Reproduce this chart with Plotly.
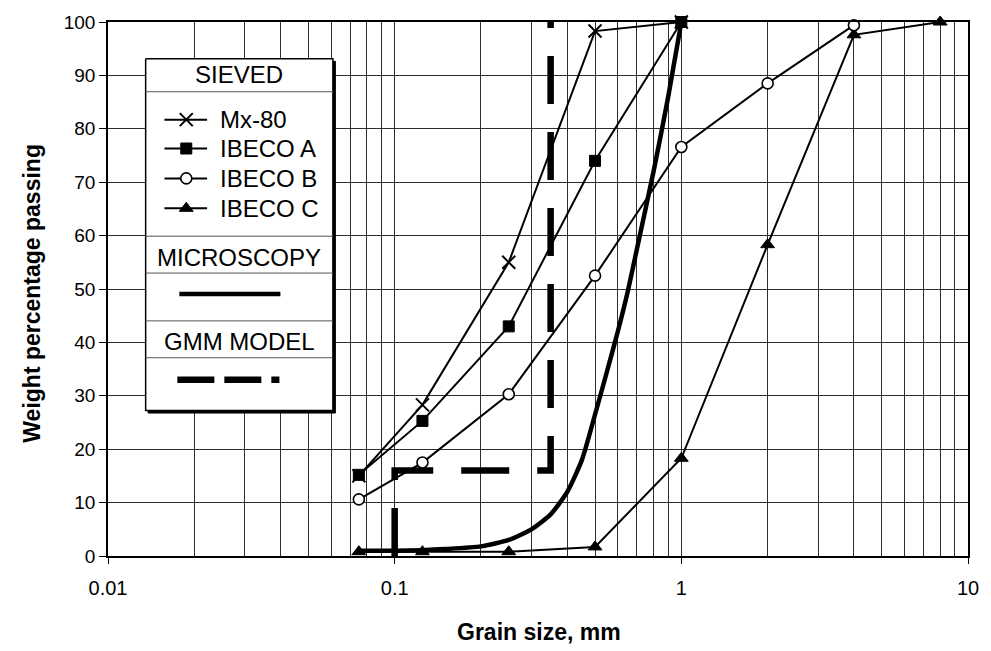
import plotly.graph_objects as go

# ---------------- data ----------------
sieve_mm = [0.075, 0.125, 0.25, 0.5, 1, 2, 4, 8]
mx80 = [15.0, 28.3, 55.0, 98.3, 100.0]
ibeco_a = [15.2, 25.3, 43.0, 74.0, 100.0]
ibeco_b = [10.6, 17.5, 30.3, 52.5, 76.6, 88.5, 99.4]
ibeco_c = [0.8, 0.8, 0.8, 1.7, 18.3, 58.3, 97.6, 100.0]

micro_x = [0.075, 0.1, 0.125, 0.15, 0.2, 0.25, 0.3, 0.35, 0.4, 0.45, 0.5,
           0.55, 0.6, 0.65, 0.7, 0.8, 0.9, 1.0]
micro_y = [1.0, 1.0, 1.1, 1.3, 1.8, 3.0, 5.0, 7.8, 12.0, 18.0, 26.5,
           34.5, 42.0, 49.5, 57.5, 72.0, 86.0, 100.0]

gmm_x = [0.1, 0.1, 0.35, 0.35]
gmm_y = [0, 16, 16, 100]

x_ticks = [0.01, 0.1, 1, 10]
x_tick_text = ["0.01", "0.1", "1", "10"]
x_minor = [m * d for d in (0.01, 0.1, 1) for m in range(2, 10)]
y_ticks = list(range(0, 101, 10))

legend_sieved = ["Mx-80", "IBECO A", "IBECO B", "IBECO C"]

# ---------------- styles ----------------
FONT = "Liberation Sans, Arial, sans-serif"
GRID = "#2e2e2e"
L, R, T, B = 108, 15, 20, 95
W, H = 991, 651

sym = {
    "Mx-80": dict(symbol="x-thin-open", size=13, color="black", line=dict(color="black", width=2)),
    "IBECO A": dict(symbol="square", size=11, color="black", line=dict(color="black", width=1)),
    "IBECO B": dict(symbol="circle", size=11, color="white", line=dict(color="black", width=1.6)),
    "IBECO C": dict(symbol="triangle-up", size=12, color="black", line=dict(color="black", width=1)),
}

fig = go.Figure()

series = [("Mx-80", mx80), ("IBECO A", ibeco_a), ("IBECO C", ibeco_c), ("IBECO B", ibeco_b)]

fig.add_trace(go.Scatter(x=micro_x, y=micro_y, mode="lines", line=dict(color="black", width=4.5, shape="spline", smoothing=0.6),
                         showlegend=False, cliponaxis=False))
fig.add_trace(go.Scatter(x=gmm_x, y=gmm_y, mode="lines", line=dict(color="black", width=6.5, dash="48px,28px"),
                         showlegend=False, cliponaxis=False))
for name, vals in series:
    fig.add_trace(go.Scatter(x=sieve_mm[:len(vals)], y=vals, mode="lines+markers", name=name,
                             line=dict(color="black", width=2), marker=sym[name],
                             showlegend=False, cliponaxis=False))

# ---------------- custom legend (pixel coordinates on overlay axes) ----------------
bx0, bx1, by0, by1 = 146, 335, 57, 410
fig.add_trace(go.Scatter(x=[bx0 + 2.5, bx1 + 2.5, bx1 + 2.5, bx0 + 2.5, bx0 + 2.5],
                         y=[by0 + 2.5, by0 + 2.5, by1 + 2.5, by1 + 2.5, by0 + 2.5], mode="lines",
                         fill="toself", fillcolor="black", line=dict(color="black", width=1),
                         xaxis="x2", yaxis="y2", showlegend=False, hoverinfo="skip"))
fig.add_trace(go.Scatter(x=[bx0, bx1, bx1, bx0, bx0], y=[by0, by0, by1, by1, by0], mode="lines",
                         fill="toself", fillcolor="white", line=dict(color="black", width=1.5),
                         xaxis="x2", yaxis="y2", showlegend=False, hoverinfo="skip"))
for sy in [90, 235, 272, 320, 357]:
    fig.add_trace(go.Scatter(x=[bx0, bx1], y=[sy, sy], mode="lines", line=dict(color="#555", width=1),
                             xaxis="x2", yaxis="y2", showlegend=False, hoverinfo="skip"))
entry_y = [118, 147, 177, 207]
for name, ey in zip(legend_sieved, entry_y):
    fig.add_trace(go.Scatter(x=[165, 208], y=[ey, ey], mode="lines", line=dict(color="black", width=2),
                             xaxis="x2", yaxis="y2", showlegend=False, hoverinfo="skip"))
    fig.add_trace(go.Scatter(x=[187], y=[ey], mode="markers", marker=sym[name],
                             xaxis="x2", yaxis="y2", showlegend=False, hoverinfo="skip"))
    fig.add_annotation(x=219, y=ey, xref="x2", yref="y2", text=name, showarrow=False, xanchor="left",
                       yanchor="middle", font=dict(family=FONT, size=24, color="black"))
fig.add_trace(go.Scatter(x=[180, 282], y=[293, 293], mode="lines", line=dict(color="black", width=4.5),
                         xaxis="x2", yaxis="y2", showlegend=False, hoverinfo="skip"))
fig.add_trace(go.Scatter(x=[178, 281], y=[379, 379], mode="lines", line=dict(color="black", width=6.5, dash="37px,10px"),
                         xaxis="x2", yaxis="y2", showlegend=False, hoverinfo="skip"))
for txt, ty in [("SIEVED", 73), ("MICROSCOPY", 256), ("GMM MODEL", 341)]:
    fig.add_annotation(x=(bx0 + bx1) / 2, y=ty, xref="x2", yref="y2", text=txt, showarrow=False,
                       xanchor="center", yanchor="middle", font=dict(family=FONT, size=24, color="black"))

# ---------------- axis titles ----------------
pw, ph = W - L - R, H - T - B
fig.add_annotation(x=(31 - L) / pw, y=(H - B - 292) / ph, xref="paper", yref="paper",
                   text="<b>Weight percentage passing</b>", textangle=-90, showarrow=False,
                   xanchor="center", yanchor="middle", font=dict(family=FONT, size=23, color="black"))
fig.add_annotation(x=(543 - L) / pw, y=(H - B - 632) / ph, xref="paper", yref="paper",
                   text="<b>Grain size, mm</b>", showarrow=False,
                   xanchor="center", yanchor="middle", font=dict(family=FONT, size=23, color="black"))

fig.update_layout(
    width=W, height=H, margin=dict(l=L, r=R, t=T, b=B, pad=0),
    paper_bgcolor="white", plot_bgcolor="white", showlegend=False,
    xaxis=dict(type="log", range=[-2, 1], tickmode="array", tickvals=x_ticks, ticktext=x_tick_text,
               showgrid=True, gridcolor=GRID, gridwidth=1,
               minor=dict(tickmode="array", tickvals=x_minor, showgrid=True, gridcolor=GRID, gridwidth=1, ticks=""),
               showline=True, linecolor="black", linewidth=1.5, mirror=True,
               ticks="outside", ticklen=6, tickcolor="black", ticklabelstandoff=7,
               tickfont=dict(family=FONT, size=20, color="black"), zeroline=False),
    yaxis=dict(range=[0, 100], tickmode="array", tickvals=y_ticks,
               showgrid=True, gridcolor=GRID, gridwidth=1,
               showline=True, linecolor="black", linewidth=1.5, mirror=True,
               ticks="outside", ticklen=7, tickcolor="black",
               tickfont=dict(family=FONT, size=19, color="black"), zeroline=False),
    xaxis2=dict(overlaying="x", anchor="y2", range=[L, W - R], visible=False, fixedrange=True),
    yaxis2=dict(overlaying="y", anchor="x2", range=[H - B, T], visible=False, fixedrange=True),
)

fig.write_html("out.html")
